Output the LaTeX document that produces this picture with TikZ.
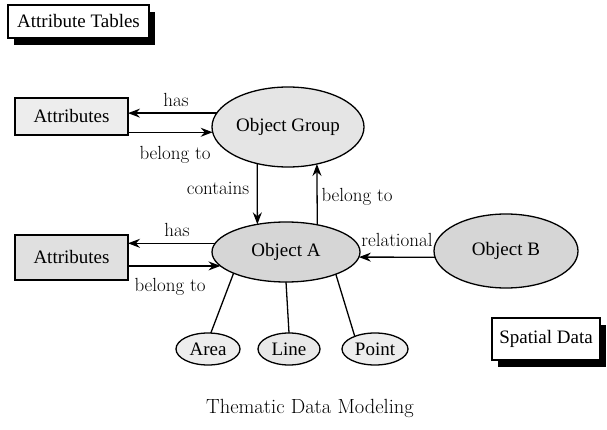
\documentclass[tikz,border=0pt]{standalone}
\usepackage{fontspec}
\newfontfamily\tms{Liberation Serif}
\usetikzlibrary{shapes.geometric,arrows.meta,shadows}
\begin{document}
\begin{tikzpicture}[x=1pt,y=-1pt,
  txt/.style={font=\tms\fontsize{19}{21}\selectfont},
  lbl/.style={font=\fontsize{19}{21}\selectfont,inner sep=1pt},
  obj/.style={ellipse,draw,line width=1.3pt,inner sep=0pt,outer sep=0pt,txt},
  attr/.style={rectangle,draw,line width=1.3pt,inner sep=0pt,outer sep=0pt,txt,
    minimum width=113pt},
  title/.style={rectangle,draw,line width=1.2pt,fill=white,inner sep=0pt,outer sep=0pt,txt,
    drop shadow={shadow xshift=6pt,shadow yshift=-7pt,fill=black,opacity=1}},
  arr/.style={-{Stealth[length=12pt,width=9pt,inset=4pt]},line width=1.3pt},
  conn/.style={line width=1.3pt}]
\useasboundingbox (0,0) rectangle (607,430);

\node[title,minimum width=141pt,minimum height=33pt] (at) at (78.5,21.5) {Attribute Tables};
\node[title,minimum width=108pt,minimum height=42pt] (sd) at (546,339) {Spatial Data};

\node[attr,fill=gray!14,minimum height=37pt] (a1) at (71.5,116.5) {Attributes};
\node[attr,fill=gray!24,minimum height=45pt] (a2) at (71.5,257.5) {Attributes};

\node[obj,fill=gray!20,minimum width=152pt,minimum height=80pt] (og) at (288,127) {Object Group};
\node[obj,fill=gray!32,minimum width=148pt,minimum height=60pt] (oa) at (286,252) {Object A};
\node[obj,fill=gray!32,minimum width=144pt,minimum height=74pt] (ob) at (506,251) {Object B};

\node[obj,fill=gray!14,minimum width=64pt,minimum height=32pt] (ar) at (208,349) {Area};
\node[obj,fill=gray!18,minimum width=62pt,minimum height=32pt] (ln) at (289,349) {Line};
\node[obj,fill=gray!14,minimum width=66pt,minimum height=32pt] (pt) at (375,349) {Point};

% Attributes <-> Object Group
\draw[arr] (og.169) -- (og.169 -| a1.east);
\draw[arr] (a1.east |- og.184) -- (og.184);
\node[lbl] (l1) at (176,100) {has};
\node[lbl] (l2) at (175,155) {belong to};

% Object Group <-> Object A
\draw[arr] (og.230) -- (oa.136);
\draw[arr] (oa.41) -- (og.308);
\node[lbl] (l3) at (218,188) {contains};
\node[lbl] (l4) at (357,197) {belong to};

% Attributes <-> Object A
\draw[arr] (oa.173) -- (oa.173 -| a2.east);
\draw[arr] (a2.east |- oa.192) -- (oa.192);
\node[lbl] (l5) at (177,230) {has};
\node[lbl] (l6) at (170,287) {belong to};

% Object B -> Object A
\draw[arr] (ob.185) -- (oa.356);
\node[lbl] (l7) at (397,240) {relational};

% Object A to geometry
\draw[conn] (oa.202) -- (ar.80);
\draw[conn] (oa.south) -- (ln.north);
\draw[conn] (oa.336) -- (pt.148);

\node[font=\fontsize{20.5}{23}\selectfont] (cap) at (310,408) {Thematic Data Modeling};
\end{tikzpicture}
\end{document}
